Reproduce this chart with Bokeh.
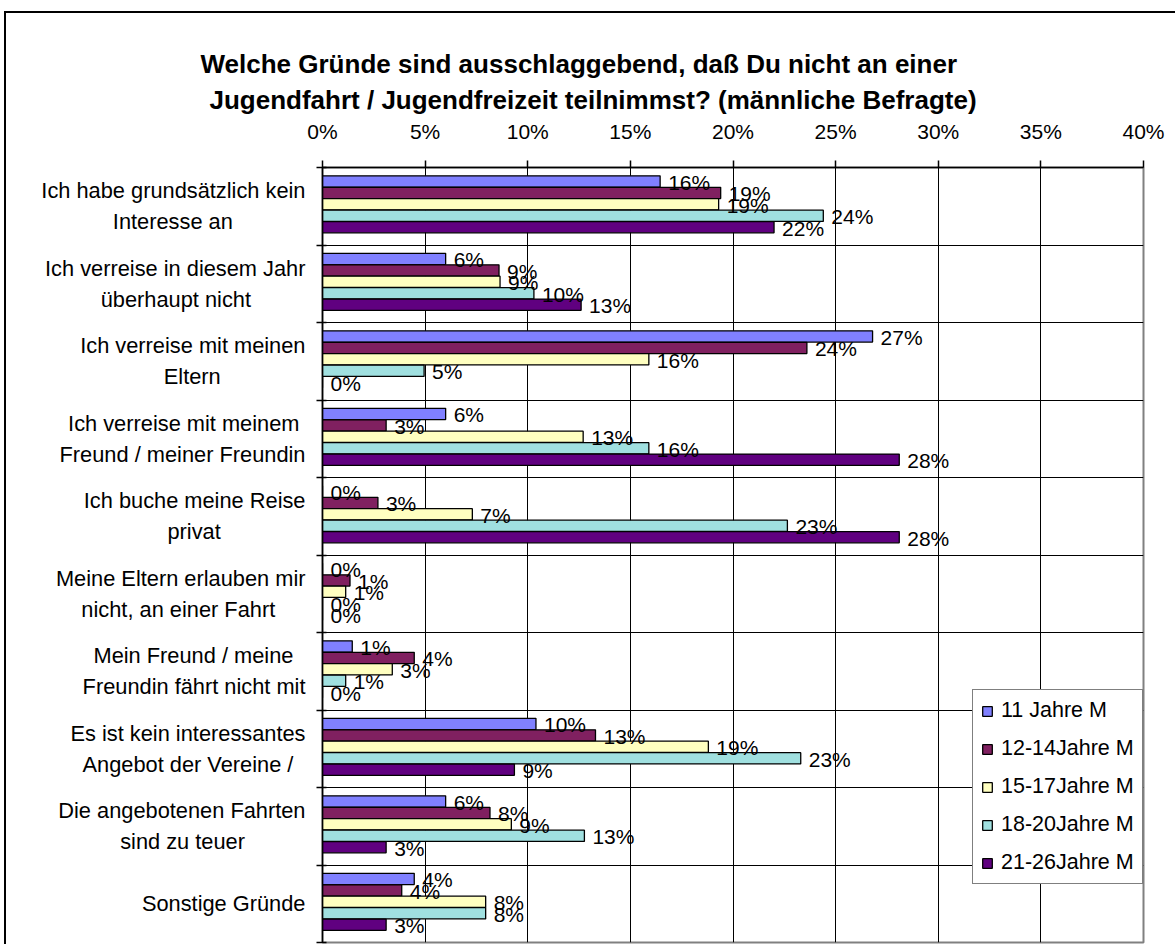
from bokeh.plotting import figure
from bokeh.models import (ColumnDataSource, FactorRange, Range1d, LinearAxis, CategoricalAxis,
                          FixedTicker, Grid, LabelSet, Legend, LegendItem, Title,
                          PrintfTickFormatter)
from bokeh.core.properties import value
from bokeh.transform import dodge
from bokeh.embed import file_html
from bokeh.resources import INLINE

categories = [
    "Ich habe grundsätzlich kein\nInteresse an",
    "Ich verreise in diesem Jahr\nüberhaupt nicht",
    "Ich verreise mit meinen\nEltern",
    "Ich verreise mit meinem\nFreund / meiner Freundin",
    "Ich buche meine Reise\nprivat",
    "Meine Eltern erlauben mir\nnicht, an einer Fahrt",
    "Mein Freund / meine\nFreundin fährt nicht mit",
    "Es ist kein interessantes\nAngebot der Vereine /",
    "Die angebotenen Fahrten\nsind zu teuer",
    "Sonstige Gründe",
]
series_names = ["11 Jahre M", "12-14Jahre M", "15-17Jahre M", "18-20Jahre M", "21-26Jahre M"]
v_11 = [16.45, 6.0, 26.8, 6.0, 0.0, 0.0, 1.45, 10.4, 6.0, 4.47]
v_12_14 = [19.4, 8.6, 23.6, 3.1, 2.7, 1.34, 4.47, 13.3, 8.16, 3.86]
v_15_17 = [19.3, 8.65, 15.9, 12.7, 7.3, 1.13, 3.4, 18.8, 9.2, 7.95]
v_18_20 = [24.4, 10.3, 4.95, 15.9, 22.65, 0.0, 1.13, 23.3, 12.76, 7.95]
v_21_26 = [22.0, 12.6, 0.0, 28.1, 28.1, 0.0, 0.0, 9.35, 3.1, 3.1]
series_values = [v_11, v_12_14, v_15_17, v_18_20, v_21_26]
colors = ["#8080FF", "#802060", "#FFFFC0", "#A0E0E0", "#600080"]
x_ticks = [0, 5, 10, 15, 20, 25, 30, 35, 40]
title_line1 = "Welche Gründe sind ausschlaggebend, daß Du nicht an einer"
title_line2 = "Jugendfahrt / Jugendfreizeit teilnimmst? (männliche Befragte)"

FONT = "Liberation Sans"
offsets = [0.32, 0.172, 0.025, -0.123, -0.27]
bar_h = 0.145
boundaries = list(range(len(categories) + 1))

# --- centre the lines of each two-line category label (labels are right-aligned) ---
_W = {"a": .556, "b": .556, "c": .5, "d": .556, "e": .556, "f": .278, "g": .556, "h": .556,
      "i": .222, "j": .222, "k": .5, "l": .222, "m": .833, "n": .556, "o": .556, "p": .556,
      "r": .333, "s": .5, "t": .278, "u": .556, "v": .5, "w": .722, "z": .5, "ä": .556,
      "ü": .556, "I": .278, "E": .667, "F": .611, "M": .833, "A": .667, "D": .722, "S": .667,
      "G": .778, "J": .5, " ": .278, "/": .278, ",": .278}
NBSP = "\u00a0"


def _tw(s):
    return sum(_W.get(ch, 0.556) for ch in s)


def _centred(label):
    lines = label.split("\n")
    if len(lines) == 1:
        return label
    m = max(_tw(l) for l in lines)
    return "\n".join(l + NBSP * int(round((m - _tw(l)) / 2 / 0.278)) for l in lines)


display_factors = [_centred(c) for c in categories]

p = figure(width=1175, height=944,
           x_range=Range1d(0, 40),
           y_range=FactorRange(factors=list(reversed(display_factors))),
           x_axis_location="above", y_axis_location=None,
           output_backend="svg", toolbar_location=None,
           min_border_left=322, min_border_right=32,
           min_border_top=167, min_border_bottom=2)

p.background_fill_color = "white"
p.border_fill_color = None
p.outline_line_color = "#808080"
p.outline_line_width = 2
# outer chart frame: visible only along the left and top edges
p.styles = {"box-shadow": "inset 4px 11px 0 0 white, inset 6px 13px 0 0 black"}

# Titles
p.title.text = title_line1
p.title.align = "left"
p.title.offset = -122
p.title.text_font = FONT
p.title.text_font_size = "26px"
p.title.text_font_style = "bold"
p.title.text_color = "black"
p.title.standoff = 5
p.add_layout(Title(text=title_line2, align="left", offset=-113, text_font=FONT,
                   text_font_size="26px", text_font_style="bold", text_color="black",
                   standoff=3), "above")

# top x axis
xa = p.xaxis[0]
xa.ticker = FixedTicker(ticks=x_ticks)
xa.formatter = PrintfTickFormatter(format="%d%%")
xa.major_tick_out = 7
xa.major_tick_in = 0
xa.minor_tick_line_color = None
xa.axis_line_color = "black"
xa.axis_line_width = 1.5
xa.major_tick_line_color = "black"
xa.major_tick_line_width = 1.5
xa.major_label_text_font = FONT
xa.major_label_text_font_size = "21px"
xa.major_label_text_color = "black"
xa.major_label_standoff = 18

for g in p.xgrid:
    g.grid_line_color = "black"
    g.grid_line_width = 1
    g.grid_line_alpha = 1
for g in p.ygrid:
    g.grid_line_color = None

# left axes: boundary ticks (inner) and category labels (outer)
num_axis = LinearAxis(ticker=FixedTicker(ticks=boundaries),
                      major_label_overrides={b: "" for b in boundaries},
                      major_label_standoff=0,
                      major_tick_in=4, major_tick_out=6, minor_tick_line_color=None,
                      axis_line_color="black", axis_line_width=1.5,
                      major_tick_line_color="black", major_tick_line_width=1.5)
cat_axis = CategoricalAxis(major_tick_line_color=None, major_tick_in=0, major_tick_out=0,
                           axis_line_color=None, major_label_text_font=FONT,
                           major_label_text_font_size="21.8px", major_label_text_color="black",
                           major_label_text_line_height=1.24, major_label_standoff=11)
p.add_layout(num_axis, "left")
p.add_layout(cat_axis, "left")

p.add_layout(Grid(dimension=1, ticker=FixedTicker(ticks=boundaries),
                  grid_line_color="black", grid_line_width=1))

items = []
for name, vals, col, off in zip(series_names, series_values, colors, offsets):
    src = ColumnDataSource(dict(cat=display_factors, val=vals,
                                lbl=[f"{round(v)}%" for v in vals]))
    r = p.hbar(y=dodge("cat", off, range=p.y_range), right="val", left=0, height=bar_h,
               source=src, fill_color=col, line_color="black", line_width=1.3)
    p.add_layout(LabelSet(x="val", y=dodge("cat", off, range=p.y_range), text="lbl", source=src,
                          x_offset=8, y_offset=-1, text_baseline="middle", text_align="left",
                          text_font=value(FONT), text_font_size="21px", text_color="black"))
    items.append(LegendItem(label=name, renderers=[r]))

legend = Legend(items=items, location=(650, 58), border_line_color="black",
                border_line_width=1.5, background_fill_color="white", background_fill_alpha=1,
                label_text_font=FONT, label_text_font_size="21.5px", label_text_color="black",
                glyph_width=12, glyph_height=12, label_standoff=8, padding=8, spacing=13,
                margin=0)
p.add_layout(legend)

open("out.html", "w").write(file_html(p, INLINE))
